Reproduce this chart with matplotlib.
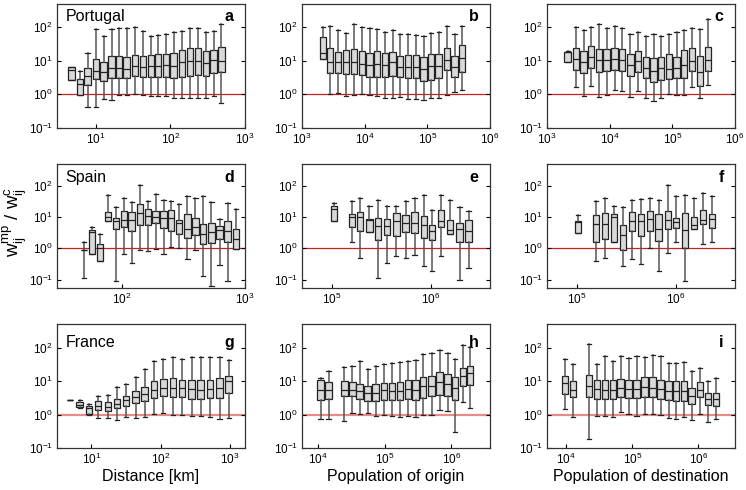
import matplotlib.pyplot as plt
import numpy as np
from matplotlib.ticker import NullLocator

plt.rcParams['font.family'] = ['Liberation Sans', 'DejaVu Sans']
plt.rcParams['mathtext.fontset'] = 'custom'
plt.rcParams['mathtext.rm'] = 'Liberation Sans'
plt.rcParams['mathtext.it'] = 'Liberation Sans:italic'

# boxes: (whisker low, q1, median, q3, whisker high)
a_x = [4.7, 6.1, 7.7, 10, 12.7, 16.2, 20.3, 25.9, 33.4, 42.8, 54.7, 68.5, 87.5,
       111, 143, 183, 234, 299, 382, 483]
a_box = [(2.6, 2.6, 5.2, 6.3, 6.5), (0.93, 0.93, 2.0, 2.8, 4.8),
         (0.42, 1.9, 3.5, 6.0, 16.6), (0.42, 2.8, 5.0, 11, 87),
         (0.72, 2.5, 4.7, 9.1, 52), (0.69, 3.0, 5.9, 13.8, 87),
         (0.95, 3.0, 5.9, 13.5, 95), (0.93, 3.0, 5.6, 12.6, 95),
         (1.05, 3.5, 7.1, 15, 100), (0.93, 3.3, 6.5, 13.8, 76),
         (0.91, 3.3, 6.9, 14.8, 52), (0.87, 3.2, 7.1, 15.8, 58),
         (0.87, 3.3, 7.4, 16.2, 63), (0.76, 3.0, 6.9, 17.4, 69),
         (0.76, 3.2, 8.9, 20, 78), (0.79, 3.6, 9.5, 23, 95),
         (0.78, 3.8, 9.5, 24, 95), (0.79, 3.5, 8.7, 19, 72),
         (0.87, 4.2, 10.5, 21, 76), (0.55, 4.6, 10, 25, 126)]

b_x = [2160, 2830, 3800, 5100, 6800, 9060, 12000, 15700, 21100, 28000, 37000,
       49800, 66000, 87000, 116000, 153000, 206000, 273000, 362000]
b_box = [(11, 11.2, 17, 50, 100), (1.0, 4.4, 9.3, 24, 110),
         (1.1, 4.4, 9.3, 18, 83), (0.91, 4.0, 9.3, 20, 66),
         (0.95, 3.9, 9.3, 22, 120), (1.05, 3.8, 8.1, 19, 100),
         (0.93, 3.2, 7.4, 16.6, 95), (0.91, 3.3, 8.1, 19, 87),
         (0.79, 3.3, 7.2, 17, 69), (0.79, 3.5, 9.1, 18.6, 83),
         (0.83, 3.2, 6.5, 14, 63), (0.74, 3.0, 6.6, 14.8, 63),
         (0.74, 3.0, 6.5, 14.4, 58), (0.69, 2.5, 5.6, 12.6, 52),
         (0.79, 2.75, 6.8, 15.8, 66), (0.79, 3.0, 6.9, 16.2, 71),
         (0.93, 5.2, 10.5, 24, 110), (1.15, 3.2, 6.6, 14, 60),
         (1.3, 4.7, 12, 29, 105)]

c_x = [2140, 2910, 3860, 5120, 6790, 9010, 12100, 16000, 21500, 28600, 37900,
       50200, 66700, 89500, 117000, 156000, 209000, 277000, 372000]
c_box = [(8.9, 8.9, 17.5, 18.6, 19), (1.66, 5.4, 11, 23, 100),
         (0.87, 4.3, 9.1, 19, 79), (1.74, 5.9, 12.9, 27.5, 100),
         (0.83, 4.7, 10.2, 22, 126), (0.95, 4.9, 10.7, 22, 91),
         (1.35, 5.2, 11.2, 24, 110), (1.26, 4.8, 10.5, 22, 91),
         (0.83, 3.5, 7.4, 15.8, 60), (1.26, 4.5, 9.8, 19.5, 69),
         (0.78, 2.95, 5.9, 12.6, 52), (0.62, 2.3, 5.0, 11.7, 60),
         (0.76, 2.75, 6.0, 13.2, 52), (1.0, 2.9, 5.8, 15.8, 60),
         (0.95, 3.0, 6.2, 13.2, 69), (0.95, 3.0, 7.6, 20, 79),
         (1.6, 4.9, 10, 24, 95), (0.76, 1.74, 4.6, 13.5, 87),
         (1.9, 4.8, 10.7, 25, 166)]

d_x = [49.6, 57.7, 66.7, 78, 90.6, 105, 121, 141, 164, 189, 219, 253, 294,
       342, 397, 458, 535, 622, 722, 845]
d_box = [(0.116, 0.9, 0.9, 0.9, 1.64), (0.64, 0.64, 3.4, 3.9, 4.6),
         (0.39, 0.39, 1.0, 1.41, 2.8), (7.4, 7.4, 10.2, 14.1, 49),
         (0.089, 4.2, 7.4, 9.1, 20.5), (0.67, 4.6, 8.0, 15.2, 41),
         (0.34, 3.5, 8.0, 14.1, 30), (0.86, 5.5, 13.1, 25, 105),
         (0.82, 5.7, 11, 17.6, 32), (0.93, 6.6, 9.7, 16, 55),
         (0.64, 4.3, 9.1, 15.2, 35), (1.1, 3.6, 9.3, 16.9, 32),
         (1.0, 2.8, 6.2, 8.0, 26), (0.44, 2.2, 4.1, 12.5, 45),
         (0.86, 2.7, 4.6, 9.3, 41), (0.13, 1.41, 2.8, 5.9, 48),
         (0.061, 1.45, 3.4, 6.3, 30), (0.30, 1.95, 3.7, 5.1, 8.6),
         (0.093, 1.56, 3.6, 7.6, 27.5), (0.95, 0.95, 1.95, 4.1, 18)]

e_x = [106000, 161000, 195000, 241000, 295000, 364000, 452000, 562000,
       689000, 856000, 1040000, 1280000, 1580000, 1970000, 2430000]
e_box = [(7.6, 7.6, 18, 22, 27.5), (1.6, 4.8, 9.7, 12.5, 32),
         (0.5, 3.45, 9.7, 14.1, 41), (3.2, 3.2, 8.0, 8.6, 22),
         (0.116, 1.9, 5.25, 9.1, 35), (0.34, 2.7, 5.25, 8.6, 23),
         (0.57, 2.4, 7.4, 13.5, 22), (0.49, 3.4, 6.6, 11.9, 32),
         (0.61, 3.1, 6.6, 14.1, 41), (0.27, 2.1, 5.4, 10.5, 51),
         (0.19, 1.86, 3.6, 5.5, 17.2), (0.57, 4.9, 7.4, 16.8, 49),
         (2.8, 2.8, 3.8, 8.0, 34), (0.095, 1.56, 4.1, 6.6, 20.5),
         (0.24, 1.56, 3.6, 8.0, 15.2)]

f_x = [103000, 157000, 194000, 238000, 294000, 362000, 448000, 553000,
       677000, 836000, 1020000, 1250000, 1550000, 1910000, 2360000]
f_box = [(3.0, 3.0, 6.7, 7.2, 11.9), (0.39, 1.64, 5.9, 11.6, 32),
         (0.49, 1.95, 5.9, 13.5, 41), (1.6, 1.6, 10.2, 12.5, 22),
         (0.27, 0.86, 2.6, 5.7, 20.5), (0.44, 3.5, 7.6, 14.1, 35),
         (0.32, 2.4, 7.6, 12.5, 38), (1.0, 3.45, 8.6, 15.2, 41),
         (0.19, 1.68, 4.1, 12.5, 34), (0.69, 4.0, 8.0, 16, 102),
         (1.64, 4.5, 7.1, 9.3, 46), (0.089, 1.05, 3.8, 13.1, 51),
         (4.1, 4.1, 5.5, 9.7, 40), (1.41, 5.9, 8.0, 16.8, 58),
         (1.64, 4.5, 8.6, 12.5, 45)]

g_x = [5.0, 6.8, 9.25, 12.6, 17.5, 23.6, 32, 43.8, 59.3, 81, 110, 152, 206,
       281, 380, 519, 708, 966]
g_box = [(2.7, 2.7, 2.7, 2.7, 2.7), (1.58, 1.7, 2.0, 2.34, 2.8),
         (0.95, 1.05, 1.55, 1.86, 2.1), (0.79, 1.41, 1.86, 2.63, 3.55),
         (0.79, 1.26, 1.7, 2.34, 4.0), (0.68, 1.55, 2.14, 3.0, 6.8),
         (0.85, 1.86, 2.8, 3.55, 8.5), (0.79, 2.24, 3.3, 5.0, 13.5),
         (0.83, 2.63, 4.3, 6.8, 23), (1.05, 3.16, 5.6, 10, 40),
         (1.12, 3.55, 6.5, 11.7, 47), (1.0, 3.4, 6.5, 12.6, 54),
         (1.0, 3.4, 6.3, 11.2, 47), (0.89, 3.0, 5.9, 11.2, 54),
         (0.89, 2.95, 5.6, 10.7, 54), (0.85, 3.16, 5.9, 10.7, 54),
         (0.74, 3.16, 6.3, 12.6, 54), (0.79, 4.5, 10.5, 14.1, 45)]

h_x = [11000, 14500, 25100, 33100, 42700, 56200, 74100, 98900, 130000,
       172000, 226000, 292000, 380000, 507000, 668000, 881000, 1150000,
       1500000, 1930000]
h_box = [(0.76, 2.8, 5.6, 11.2, 12.6), (0.76, 3.0, 5.6, 9.5, 20),
         (0.63, 3.55, 5.6, 10.5, 27), (1.12, 3.55, 5.6, 9.5, 28),
         (1.07, 2.95, 5.25, 8.5, 40), (1.12, 2.63, 4.5, 7.4, 23),
         (0.89, 2.5, 4.5, 8.3, 28), (0.95, 2.8, 5.4, 8.9, 32),
         (0.89, 2.8, 5.25, 8.9, 35), (0.85, 2.8, 5.25, 9.3, 37),
         (0.89, 3.0, 5.9, 10.7, 40), (0.83, 2.7, 5.4, 10.7, 43),
         (0.98, 3.16, 7.1, 13.5, 68), (0.98, 3.55, 7.4, 14.1, 71),
         (1.35, 4.0, 9.3, 18.6, 89), (1.26, 3.7, 8.3, 17, 71),
         (0.30, 2.7, 6.3, 13.2, 48), (2.34, 7.1, 14.1, 25, 126),
         (1.58, 7.6, 17.8, 29.5, 107)]

i_x = [9660, 12800, 22200, 29400, 38600, 51200, 67100, 88000, 116000,
       154000, 205000, 268000, 356000, 466000, 611000, 800000, 1060000,
       1420000, 1860000]
i_box = [(1.48, 4.3, 8.9, 14.1, 47), (0.85, 3.4, 5.6, 10, 34),
         (0.186, 3.4, 7.4, 15.8, 135), (0.93, 3.0, 5.9, 10.7, 33),
         (0.93, 3.0, 5.6, 10.7, 59), (0.85, 3.0, 5.6, 10.7, 40),
         (1.17, 3.4, 6.3, 11.7, 56), (1.05, 3.16, 6.0, 11.2, 50),
         (0.93, 3.1, 5.9, 11.2, 56), (1.07, 3.3, 6.8, 13.5, 52),
         (1.07, 3.3, 6.3, 13.5, 60), (1.0, 3.0, 5.9, 11.2, 56),
         (0.79, 2.7, 5.25, 10, 35), (0.74, 2.5, 5.25, 10, 35),
         (0.85, 2.5, 5.25, 10, 37), (0.71, 2.14, 3.55, 6.3, 20),
         (1.07, 3.3, 5.6, 9.5, 26), (0.59, 2.0, 2.95, 4.5, 10),
         (0.76, 1.78, 2.95, 4.5, 12.6)]

countries = ['Portugal', 'Spain', 'France']
xlabels = ['Distance [km]', 'Population of origin', 'Population of destination']

W, H = 746, 490
fig = plt.figure(figsize=(W / 100, H / 100), dpi=100)

col_left = [57, 302, 547]
row_top = [4, 164, 324]
ax_w, ax_h = 188, 124

panels = [
    (a_x, a_box, (3, 1000), [10, 100, 1000]),
    (b_x, b_box, (1e3, 1e6), [1e3, 1e4, 1e5, 1e6]),
    (c_x, c_box, (1e3, 1e6), [1e3, 1e4, 1e5, 1e6]),
    (d_x, d_box, (30, 1000), [100, 1000]),
    (e_x, e_box, (5e4, 4e6), [1e5, 1e6]),
    (f_x, f_box, (5e4, 4e6), [1e5, 1e6]),
    (g_x, g_box, (3.2, 1650), [10, 100, 1000]),
    (h_x, h_box, (5.8e3, 3.8e6), [1e4, 1e5, 1e6]),
    (i_x, i_box, (5.1e3, 3.6e6), [1e4, 1e5, 1e6]),
]
ylims = [(0.1, 10**2.68), (10**-1.27, 10**2.69), (0.1, 10**2.72)]
letters = 'abcdefghi'
text_y = [0.90, 0.89, 0.85]

for k, (xs, boxes, xlim, xt) in enumerate(panels):
    r, c = divmod(k, 3)
    ax = fig.add_axes([col_left[c] / W, 1 - (row_top[r] + ax_h) / H,
                       ax_w / W, ax_h / H])
    ax.set_xscale('log')
    ax.set_yscale('log')

    red = '#cc2020' if r < 2 else '#e88a8a'
    ax.axhline(1, color=red, lw=0.9 if r < 2 else 1.6, zorder=1)

    dec_px = ax_w / np.log10(xlim[1] / xlim[0])
    h = 3.2 / dec_px
    widths = [x * (10**h - 10**-h) for x in xs]
    stats = [dict(whislo=b[0], q1=b[1], med=b[2], q3=b[3], whishi=b[4])
             for b in boxes]
    ax.bxp(stats, positions=xs, widths=widths,
           capwidths=[w * 0.65 for w in widths],
           showfliers=False, patch_artist=True, manage_ticks=False,
           boxprops=dict(facecolor='#d9d9d9', edgecolor='#222222', lw=0.9),
           whiskerprops=dict(color='#555555', lw=1.1),
           capprops=dict(color='#222222', lw=0.9),
           medianprops=dict(color='#222222', lw=0.9))

    ax.set_xlim(xlim)
    ax.set_ylim(ylims[r])
    ax.set_xticks(xt)
    ax.set_yticks([0.1, 1, 10, 100])
    ax.xaxis.set_minor_locator(NullLocator())
    ax.yaxis.set_minor_locator(NullLocator())
    ax.tick_params(which='both', direction='in', right=True, top=False,
                   length=3, width=0.8, labelsize=8.5, pad=3)
    for s in ax.spines.values():
        s.set_color('#333333')
        s.set_linewidth(0.9)

    if c == 0:
        ax.text(0.045, text_y[r], countries[r], transform=ax.transAxes,
                fontsize=11.5, va='center', ha='left')
    ax.text(0.94, text_y[r], letters[k], transform=ax.transAxes,
            fontsize=11.5, fontweight='bold', va='center', ha='right')
    if r == 2:
        ax.set_xlabel(xlabels[c], fontsize=11.5, labelpad=1)

fig.text(15 / W, 1 - 222 / H, r'$\mathregular{w_{ij}^{mp}\ /\ w_{ij}^{c}}$',
         rotation=90, ha='center', va='center', fontsize=13.5)

fig.savefig('out.png', dpi=100)
